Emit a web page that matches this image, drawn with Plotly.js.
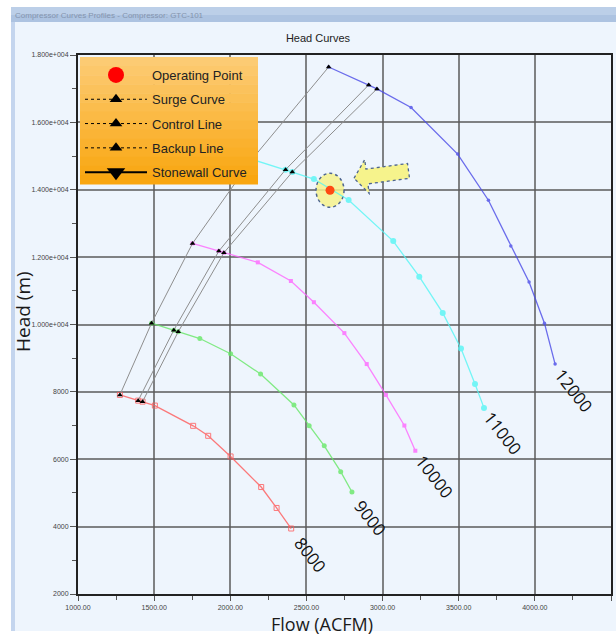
<!DOCTYPE html>
<html><head><meta charset="utf-8">
<script src="https://cdn.plot.ly/plotly-3.0.1.min.js"></script>
<style>html,body{margin:0;padding:0;background:#fff;} #chart{width:616px;height:635px;}</style>
</head><body><div id="chart"></div>
<script>
// ---- data ----
const speeds = ['8000', '9000', '10000', '11000', '12000'];
const flow8000  = [1275, 1395, 1424, 1505, 1756, 1855, 2002, 2203, 2304, 2400];
const head8000  = [7909, 7740, 7710, 7593, 6992, 6696, 6083, 5175, 4554, 3944];
const flow9000  = [1483, 1629, 1658, 1800, 2002, 2199, 2418, 2518, 2617, 2725, 2799];
const head9000  = [10040, 9832, 9782, 9584, 9131, 8530, 7613, 6992, 6400, 5631, 5027];
const flow10000 = [1752, 1925, 1958, 2181, 2398, 2549, 2749, 2896, 3022, 3143, 3215];
const head10000 = [12407, 12180, 12129, 11845, 11291, 10661, 9744, 8826, 7909, 7001, 6252];
const flow11000 = [2142, 2363, 2407, 2549, 2777, 3070, 3241, 3395, 3515, 3607, 3666];
const head11000 = [14901, 14597, 14526, 14318, 13697, 12475, 11418, 10345, 9288, 8235, 7525];
const flow12000 = [2646, 2909, 2963, 3187, 3493, 3695, 3842, 3962, 4063, 4133];
const head12000 = [17644, 17112, 16994, 16440, 15058, 13688, 12327, 11261, 10040, 8826];
const opFlow = [2655];
const opHead = [13984];
const xTickVals = [1000, 1500, 2000, 2500, 3000, 3500, 4000, 4500];
const xTickText = ['1000.00', '1500.00', '2000.00', '2500.00', '3000.00', '3500.00', '4000.00', '4500.00'];
const yTickVals = [2000, 4000, 6000, 8000, 10000, 12000, 14000, 16000, 18000];
const yTickText = ['2000', '4000', '6000', '8000', '1.000e+004', '1.200e+004', '1.400e+004', '1.600e+004', '1.800e+004'];
const legendNames = ['Operating Point', 'Surge Curve', 'Control Line', 'Backup Line', 'Stonewall Curve'];

// ---- styling ----
const curveX = [flow8000, flow9000, flow10000, flow11000, flow12000];
const curveY = [head8000, head9000, head10000, head11000, head12000];
const curveStyle = [
  {color: '#ff5a5a', symbol: 'square-open', size: 5},
  {color: '#66e866', symbol: 'circle', size: 5},
  {color: '#ff66ff', symbol: 'square', size: 4},
  {color: '#55f5f5', symbol: 'circle', size: 6},
  {color: '#4a4ae8', symbol: 'circle', size: 3.5}
];
const FONT = 'Liberation Sans, Arial, sans-serif';
const traces = [];

curveX.forEach((xs, i) => {
  traces.push({
    type: 'scatter', mode: 'lines+markers', x: xs, y: curveY[i], name: speeds[i],
    line: {color: curveStyle[i].color, width: 1.3},
    marker: {color: curveStyle[i].color, symbol: curveStyle[i].symbol, size: curveStyle[i].size},
    opacity: 0.8, showlegend: false, hoverinfo: 'x+y+name'
  });
});

// surge / control / backup polylines (points 0,1,2 of each speed curve)
[0, 1, 2].forEach(k => {
  traces.push({
    type: 'scatter', mode: 'lines+markers',
    x: curveX.map(a => a[k]), y: curveY.map(a => a[k]), name: legendNames[k + 1],
    line: {color: '#8e8e8e', width: 1},
    marker: {color: '#000', symbol: 'triangle-up', size: 5},
    showlegend: false
  });
});

// operating point
traces.push({
  type: 'scatter', mode: 'markers', x: opFlow, y: opHead, name: legendNames[0],
  marker: {color: '#ff4a12', size: 9}, showlegend: false
});

// legend-only entries
const legStyles = [
  {mode: 'markers', marker: {color: '#ff0000', size: 16}},
  {mode: 'lines+markers', line: {color: '#000', width: 1, dash: 'dot'}, marker: {color: '#000', symbol: 'triangle-up', size: 11}},
  {mode: 'lines+markers', line: {color: '#000', width: 1, dash: 'dot'}, marker: {color: '#000', symbol: 'triangle-up', size: 11}},
  {mode: 'lines+markers', line: {color: '#000', width: 1, dash: 'dot'}, marker: {color: '#000', symbol: 'triangle-up', size: 11}},
  {mode: 'lines+markers', line: {color: '#000', width: 2}, marker: {color: '#000', symbol: 'triangle-down', size: 16}}
];
legendNames.forEach((n, i) => {
  traces.push(Object.assign({type: 'scatter', x: [null], y: [null], name: n, legendgroup: 'g' + i, showlegend: true, hoverinfo: 'skip'}, legStyles[i]));
});

// ---- layout decorations ----
const L = 78, R = 5, T = 55, B = 41, W = 616, H = 635;
const pw = W - L - R, ph = H - T - B;
const px = v => (v - L) / pw;          // pixel x -> paper
const py = v => (H - B - v) / ph;      // pixel y -> paper

const shapes = [
  // window body
  {type: 'rect', xref: 'paper', yref: 'paper', x0: px(11), x1: px(622), y0: py(631), y1: py(22), fillcolor: '#eef5fd', line: {width: 0}, layer: 'below'},
  // left border
  {type: 'rect', xref: 'paper', yref: 'paper', x0: px(11), x1: px(15), y0: py(631), y1: py(22), fillcolor: '#c4d5ee', line: {width: 0}, layer: 'below'},
  // title bar
  {type: 'rect', xref: 'paper', yref: 'paper', x0: px(11), x1: px(622), y0: py(15), y1: py(7), fillcolor: '#bccfe8', line: {width: 0}, layer: 'below'},
  {type: 'rect', xref: 'paper', yref: 'paper', x0: px(11), x1: px(622), y0: py(22), y1: py(15), fillcolor: '#adc3e1', line: {width: 0}, layer: 'below'},
  // highlight ellipse around operating point
  {type: 'circle', xref: 'x', yref: 'y', xsizemode: 'pixel', ysizemode: 'pixel', xanchor: opFlow[0], yanchor: opHead[0],
   x0: -14, x1: 14, y0: -17, y1: 17, fillcolor: 'rgba(246,242,140,0.85)', line: {color: '#4d6590', width: 1.5, dash: 'dot'}, layer: 'between'},
  // block arrow
  {type: 'path', xref: 'x', yref: 'y', xsizemode: 'pixel', ysizemode: 'pixel', xanchor: opFlow[0], yanchor: opHead[0],
   path: 'M24,12 L34.7,30.7 L35.9,21.2 L77.5,26.8 L79.5,12 L37.9,6.4 L39.1,-3.1 Z',
   fillcolor: '#f6f38c', line: {color: '#4d6590', width: 1.3, dash: 'dot'}, layer: 'above'}
];
// legend gradient background
const lgTop = 57, lgBot = 184, lgLeft = 80, lgRight = 258, nb = 14;
for (let b = 0; b < nb; b++) {
  const t = b / (nb - 1);
  const r = Math.round(252 + (249 - 252) * t), g = Math.round(203 + (166 - 203) * t), bl = Math.round(115 + (16 - 115) * t);
  const y0 = lgTop + (lgBot - lgTop) * b / nb, y1 = lgTop + (lgBot - lgTop) * (b + 1) / nb;
  shapes.push({type: 'rect', xref: 'paper', yref: 'paper', x0: px(lgLeft), x1: px(lgRight), y0: py(y1 + 0.5), y1: py(y0),
    fillcolor: `rgb(${r},${g},${bl})`, line: {width: 0}, layer: 'above'});
}

const annotations = [
  {xref: 'paper', yref: 'paper', x: px(13), y: py(15), xanchor: 'left', yanchor: 'middle', showarrow: false,
   text: 'Compressor Curves Profiles - Compressor: GTC-101', font: {family: FONT, size: 8, color: '#8494ae'}},
  {xref: 'paper', yref: 'paper', x: px(23), y: py(312), xanchor: 'center', yanchor: 'middle', showarrow: false, borderpad: 0,
   text: 'Head (m)', textangle: -90, font: {family: 'Open Sans, sans-serif', size: 19, color: '#1a1a1a'}},
  {xref: 'paper', yref: 'paper', x: px(322), y: py(611), xanchor: 'center', yanchor: 'top', showarrow: false, borderpad: 0,
   text: 'Flow (ACFM)', font: {family: 'Open Sans, sans-serif', size: 18, color: '#1a1a1a'}}
];
curveX.forEach((xs, i) => {
  annotations.push({x: xs[xs.length - 1], y: curveY[i][curveY[i].length - 1], xref: 'x', yref: 'y',
    text: speeds[i], showarrow: false, textangle: 52, xshift: 19, yshift: -26,
    xanchor: 'center', yanchor: 'middle', font: {family: 'Open Sans, sans-serif', size: 17, color: '#111'}});
});

const axisCommon = {
  showgrid: true, gridcolor: 'rgba(90,90,90,0.75)', gridwidth: 2, zeroline: false,
  showline: true, linecolor: '#222', linewidth: 2, mirror: true,
  ticks: 'outside', ticklen: 6, tickcolor: '#555', tickwidth: 1,
  tickfont: {family: FONT, size: 7, color: '#444'}, tickmode: 'array'
};

const layout = {
  width: W, height: H,
  margin: {l: L, r: R, t: T, b: B, pad: 0},
  paper_bgcolor: '#ffffff', plot_bgcolor: '#eff6fd',
  title: {text: 'Head Curves', x: 318 / W, xref: 'container', xanchor: 'center', y: 1 - 38 / H, yref: 'container', yanchor: 'middle',
    font: {family: FONT, size: 11, color: '#222'}},
  xaxis: Object.assign({}, axisCommon, {
    range: [1000, 4500], tickvals: xTickVals, ticktext: xTickText, ticklen: 5, ticklabelstandoff: 1,
    minor: {tickmode: 'linear', tick0: 1000, dtick: 250, ticks: 'outside', ticklen: 4, tickcolor: '#555', showgrid: false}
  }),
  yaxis: Object.assign({}, axisCommon, {
    range: [2000, 18000], tickvals: yTickVals, ticktext: yTickText,
    minor: {tickmode: 'linear', tick0: 2000, dtick: 1000, ticks: 'outside', ticklen: 4, tickcolor: '#555', showgrid: false}
  }),
  legend: {x: px(lgLeft), y: py(lgTop + 3), xanchor: 'left', yanchor: 'top', bgcolor: 'rgba(0,0,0,0)', borderwidth: 0,
    font: {family: FONT, size: 13, color: '#222'}, itemwidth: 62, tracegroupgap: 4.4, itemclick: false, itemdoubleclick: false},
  shapes: shapes, annotations: annotations, hovermode: 'closest'
};

Plotly.newPlot('chart', traces, layout, {displayModeBar: false, responsive: false});
</script></body></html>
